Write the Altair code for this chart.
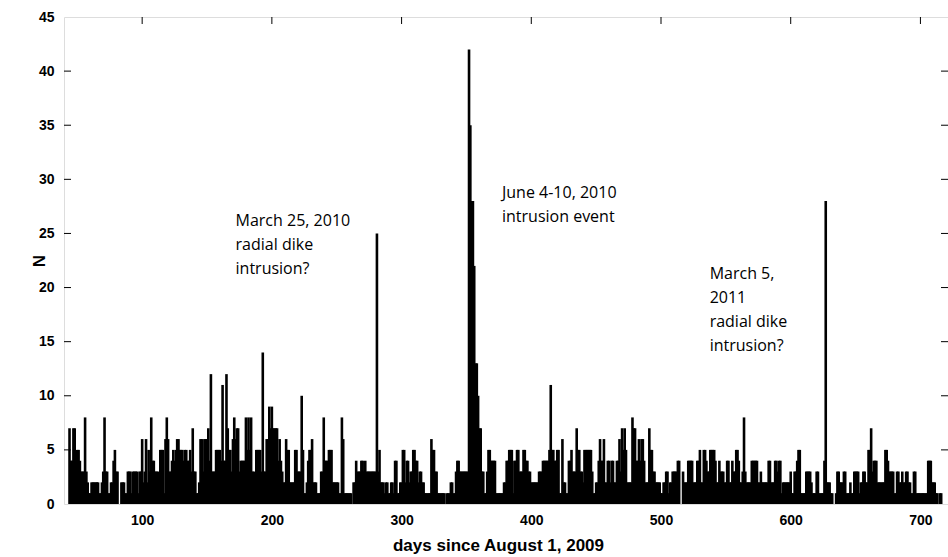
import altair as alt
import pandas as pd

start_day = 44
counts = [
    7,4,4,7,7,4,5,5,4,3,      # 44
    3,3,8,3,2,1,1,2,2,2,      # 54
    2,2,2,1,1,2,3,8,3,3,      # 64
    1,1,2,2,4,5,3,3,0,0,      # 74
    2,2,2,1,1,3,3,3,1,3,      # 84
    3,3,3,1,3,3,6,2,3,6,      # 94
    2,5,3,8,4,4,3,3,3,2,      # 104
    5,5,5,1,6,8,6,3,3,4,      # 114
    5,4,5,6,6,5,5,5,4,5,      # 124
    5,4,4,5,3,7,3,3,1,1,      # 134
    2,6,6,3,6,6,6,7,4,12,     # 144
    3,3,3,5,5,5,5,4,11,4,     # 154
    4,12,7,5,5,3,6,8,6,7,     # 164
    7,3,4,4,4,4,8,5,8,5,      # 174
    8,3,3,2,5,5,5,5,3,14,     # 184
    3,3,6,6,9,7,9,7,7,7,      # 194
    7,4,6,4,3,2,2,6,5,5,      # 204
    2,2,2,2,5,5,3,3,3,10,     # 214
    5,1,1,2,4,5,5,6,2,2,      # 224
    2,1,1,1,3,3,8,4,4,4,      # 234
    5,5,5,2,2,2,2,2,1,1,      # 244
    8,6,1,1,1,1,1,1,0,2,      # 254
    2,4,3,3,3,4,4,3,4,3,      # 264
    3,3,3,3,3,3,3,25,3,5,     # 274
    2,2,2,1,2,2,1,1,2,2,      # 284
    1,4,4,1,1,2,2,5,5,2,      # 294
    4,4,2,3,3,5,5,4,4,2,      # 304
    3,3,2,2,1,1,1,1,1,6,      # 314
    5,5,3,3,1,1,1,1,1,1,      # 324
    0,1,1,1,2,2,1,1,3,4,      # 334
    4,3,3,3,3,3,3,3,42,35,    # 344
    28,28,22,13,13,10,7,7,3,3,  # 354
    1,1,3,5,5,4,4,4,4,1,      # 364
    1,1,1,1,1,2,2,4,4,5,      # 374
    5,5,1,4,4,5,5,3,3,3,      # 384
    5,5,4,4,3,3,2,2,2,2,      # 394
    2,2,3,3,3,4,4,4,4,4,      # 404
    5,11,5,5,4,4,5,5,1,1,     # 414
    6,2,2,1,1,4,4,5,3,3,      # 424
    3,7,5,5,3,3,2,5,5,5,      # 434
    5,5,5,3,1,1,2,2,4,6,      # 444
    4,4,6,2,2,4,4,2,4,4,      # 454
    2,2,4,4,6,3,7,5,7,5,      # 464
    2,2,2,2,8,7,7,4,4,6,      # 474
    4,6,6,4,2,2,2,7,5,5,      # 484
    3,3,2,2,2,2,1,1,2,2,      # 494
    3,3,1,2,2,3,3,3,3,4,      # 504
    4,0,0,3,2,2,2,4,4,4,      # 514
    4,2,2,2,4,4,5,2,2,5,      # 524
    5,4,3,3,5,5,5,5,4,2,      # 534
    2,4,3,3,3,2,2,4,4,2,      # 544
    2,4,3,3,5,5,4,2,2,3,      # 554
    8,3,2,2,2,2,4,4,4,4,      # 564
    4,2,2,3,2,2,2,2,2,4,      # 574
    4,2,2,2,4,4,3,4,4,1,      # 584
    2,2,2,2,2,2,3,1,1,3,      # 594
    3,4,5,5,1,1,1,1,3,3,      # 604
    3,3,2,1,1,1,3,3,1,1,      # 614
    1,1,4,28,2,2,2,1,1,0,     # 624
    0,1,3,3,2,2,2,3,3,1,      # 634
    1,1,2,1,1,3,3,3,3,1,      # 644
    2,2,3,3,2,2,5,5,7,3,      # 654
    4,4,4,2,2,2,2,2,2,5,      # 664
    5,4,3,3,3,3,1,1,3,3,      # 674
    2,2,3,2,2,3,3,2,2,1,      # 684
    1,3,3,1,1,1,1,1,1,1,      # 694
    1,1,4,4,4,2,2,2,1,1,      # 704
    0,1,1,                    # 714
]
days = list(range(start_day, start_day + len(counts)))

x_ticks = [100, 200, 300, 400, 500, 600, 700]
y_ticks = [0, 5, 10, 15, 20, 25, 30, 35, 40, 45]

ann_text = ["March 25, 2010\nradial dike\nintrusion?",
            "June 4-10, 2010\nintrusion event",
            "March 5,\n2011\nradial dike\nintrusion?"]
ann_day = [172.0, 377.4, 537.5]
ann_n = [25.7, 28.3, 20.8]

W, H = 884, 487
X_DOM = [43.6, 717.4]
Y_DOM = [0, 45]

df = pd.DataFrame({"day": days, "N": counts})
ann = pd.DataFrame({"day": ann_day, "N": ann_n, "text": ann_text})
yt = pd.DataFrame({"v": y_ticks[1:-1]})
xt = pd.DataFrame({"v": x_ticks})

xscale = alt.Scale(domain=X_DOM, nice=False, zero=False)
yscale = alt.Scale(domain=Y_DOM, nice=False)

AX_FONT = "Liberation Sans"

bars = alt.Chart(df).mark_bar(color="black", size=2.6, clip=True).encode(
    x=alt.X("day:Q", scale=xscale,
            axis=alt.Axis(values=x_ticks, title="days since August 1, 2009",
                          ticks=False, domain=False, grid=False,
                          labelFont=AX_FONT, labelFontSize=14, labelFontWeight="bold",
                          labelColor="black", labelPadding=9,
                          titleFont=AX_FONT, titleFontSize=17, titleFontWeight="bold",
                          titleColor="black", titleX=434, titleY=41,
                          titleBaseline="middle")),
    y=alt.Y("N:Q", scale=yscale,
            axis=alt.Axis(values=y_ticks, title="N", ticks=False, domain=False, grid=False,
                          labelFont=AX_FONT, labelFontSize=14, labelFontWeight="bold",
                          labelColor="black", labelPadding=10,
                          titleFont=AX_FONT, titleFontSize=17, titleFontWeight="bold",
                          titleColor="black", titleX=-25, titleY=H / 2,
                          titleBaseline="middle", titleAngle=-90)),
)

tick_len = 7
yl = alt.Chart(yt).mark_rule(color="black", strokeWidth=1).encode(
    x=alt.value(0), x2=alt.value(tick_len), y=alt.Y("v:Q", scale=yscale))
yr = alt.Chart(yt).mark_rule(color="black", strokeWidth=1).encode(
    x=alt.value(W - tick_len), x2=alt.value(W), y=alt.Y("v:Q", scale=yscale))
xtop = alt.Chart(xt).mark_rule(color="black", strokeWidth=1).encode(
    x=alt.X("v:Q", scale=xscale), y=alt.value(0), y2=alt.value(tick_len))

texts = alt.Chart(ann).mark_text(align="left", baseline="alphabetic", font="Open Sans",
                                 fontSize=16, lineBreak="\n", lineHeight=24,
                                 color="black").encode(
    x=alt.X("day:Q", scale=xscale), y=alt.Y("N:Q", scale=yscale), text="text:N")

chart = alt.layer(bars, yl, yr, xtop, texts).properties(
    width=W, height=H,
    autosize=alt.AutoSizeParams(type="none"),
    padding={"left": 64, "top": 17, "right": 0, "bottom": 53},
).configure_view(stroke="black", strokeWidth=1).configure(background="white")

chart.save("out.html", embed_options={"renderer": "svg", "actions": False})
